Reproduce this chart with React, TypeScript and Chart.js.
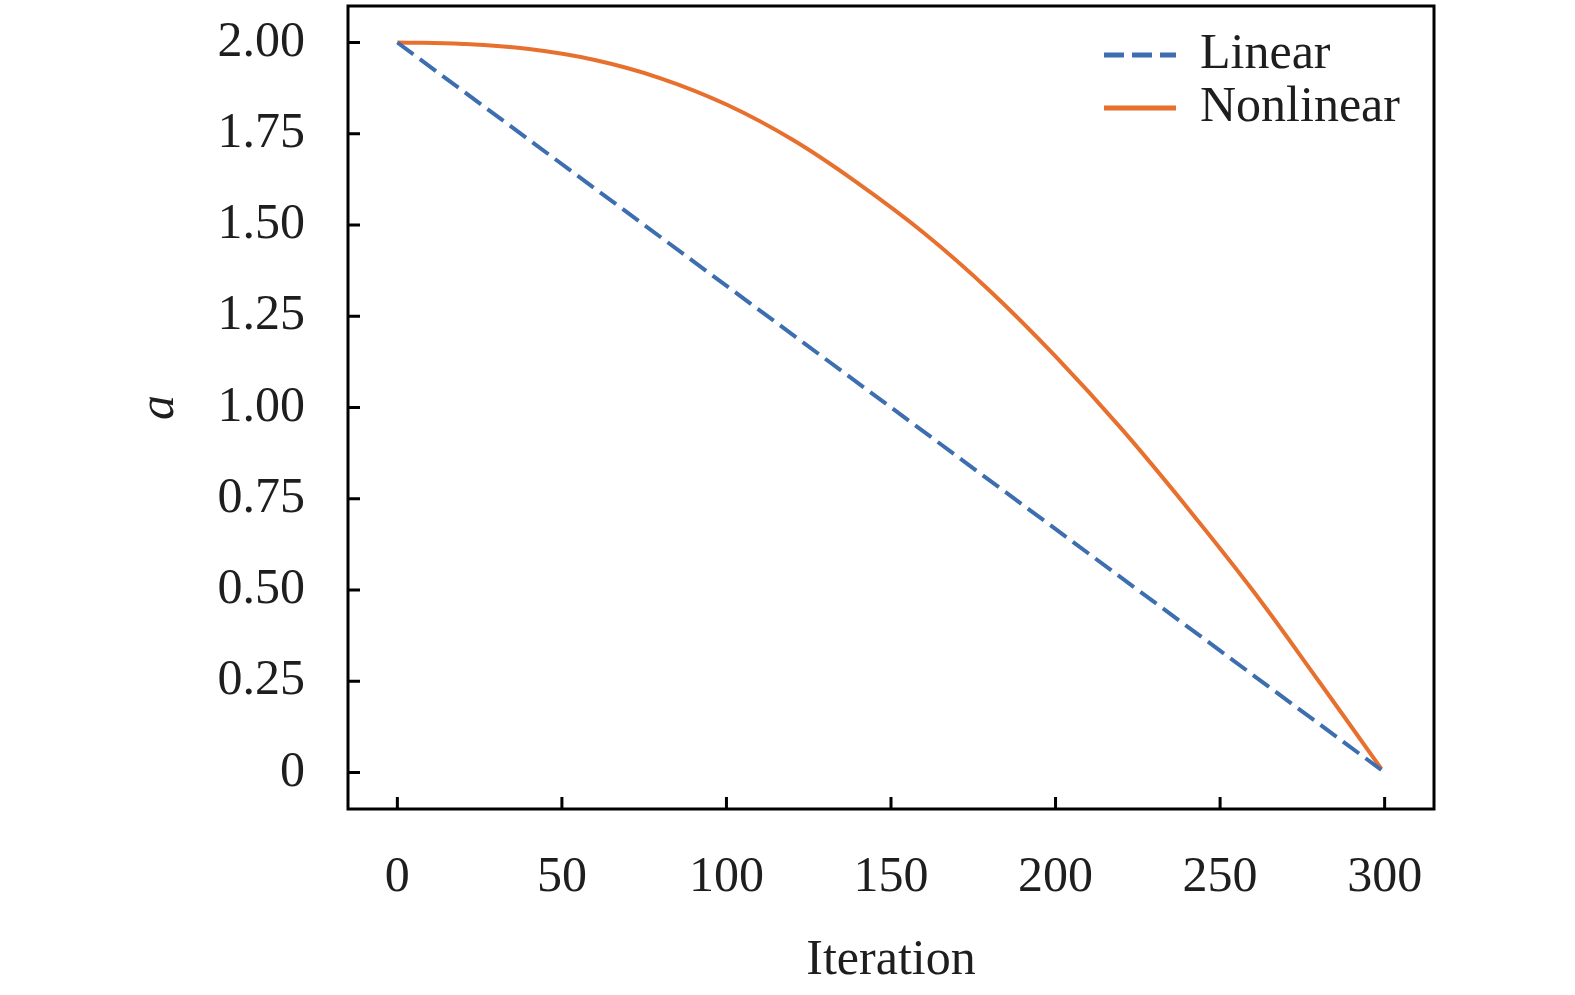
import React, { useEffect, useRef } from 'react';
import { Chart, registerables } from 'chart.js';

Chart.register(...registerables);

// values
const iterations = [0, 20, 40, 60, 80, 100, 120, 140, 160, 180, 200, 220, 240, 260, 280, 299];
const nonlinearA = [2.0, 1.996, 1.982, 1.952, 1.902, 1.83, 1.734, 1.614, 1.478, 1.32, 1.14, 0.942, 0.726, 0.498, 0.25, 0.01];
const linearIterations = [0, 299];
const linearA = [2.0, 0.007];

const xTicks = [0, 50, 100, 150, 200, 250, 300];
const yTicks = [0, 0.25, 0.5, 0.75, 1.0, 1.25, 1.5, 1.75, 2.0];

const BLUE = '#3d6eb0';
const ORANGE = '#e8702e';
const FONT = 'Liberation Serif';
const TEXT = '#1e1e1e';

const framePlugin = {
  id: 'frameAndTicks',
  afterDatasetsDraw(chart: any) {
    const { ctx, chartArea: a, scales } = chart;
    ctx.save();
    ctx.strokeStyle = '#000';
    ctx.lineWidth = 3;
    ctx.setLineDash([]);
    ctx.strokeRect(a.left, a.top, a.right - a.left, a.bottom - a.top);
    ctx.beginPath();
    xTicks.forEach((v) => {
      const px = scales.x.getPixelForValue(v);
      ctx.moveTo(px, a.bottom);
      ctx.lineTo(px, a.bottom - 12);
    });
    yTicks.forEach((v) => {
      const py = scales.y.getPixelForValue(v);
      ctx.moveTo(a.left, py);
      ctx.lineTo(a.left + 12, py);
    });
    ctx.stroke();

    // legend, upper right inside the axes
    const x0 = a.right - 330;
    const x1 = a.right - 258;
    const tx = a.right - 234;
    const rows = [a.top + 49, a.top + 102];
    ctx.font = `50px "${FONT}"`;
    ctx.textBaseline = 'middle';
    ctx.textAlign = 'left';
    chart.data.datasets.forEach((ds: any, i: number) => {
      ctx.beginPath();
      ctx.strokeStyle = ds.borderColor;
      ctx.lineWidth = ds.borderWidth + 1;
      ctx.setLineDash(ds.borderDash || []);
      ctx.moveTo(x0, rows[i]);
      ctx.lineTo(x1, rows[i]);
      ctx.stroke();
      ctx.setLineDash([]);
      ctx.fillStyle = TEXT;
      ctx.fillText(ds.label, tx, rows[i]);
    });
    ctx.restore();
  },
};

const App: React.FC = () => {
  const canvasRef = useRef<HTMLCanvasElement>(null);
  const chartRef = useRef<Chart | null>(null);

  useEffect(() => {
    if (chartRef.current) {
      chartRef.current.destroy();
    }
    if (!canvasRef.current) return;

    // @ts-ignore
    chartRef.current = new Chart(canvasRef.current, {
      type: 'line',
      data: {
        datasets: [
          {
            label: 'Linear',
            data: linearIterations.map((t, i) => ({ x: t, y: linearA[i] })),
            borderColor: BLUE,
            borderWidth: 4,
            borderDash: [20, 8],
            pointRadius: 0,
            fill: false,
          },
          {
            label: 'Nonlinear',
            data: iterations.map((t, i) => ({ x: t, y: nonlinearA[i] })),
            borderColor: ORANGE,
            borderWidth: 4,
            tension: 0.4,
            pointRadius: 0,
            fill: false,
          },
        ],
      },
      options: {
        animation: false,
        responsive: true,
        maintainAspectRatio: false,
        layout: { padding: { left: 0, right: 141, top: 6, bottom: 0 } },
        plugins: {
          legend: { display: false },
          tooltip: { enabled: false },
        },
        scales: {
          x: {
            type: 'linear',
            min: -15,
            max: 315,
            afterBuildTicks: (s: any) => {
              s.ticks = xTicks.map((v) => ({ value: v }));
            },
            afterFit: (s: any) => {
              s.height = 186;
              s.paddingLeft = 0;
              s.paddingRight = 0;
            },
            grid: { display: false, drawTicks: false, tickLength: 0 },
            border: { display: false },
            ticks: {
              padding: 39,
              color: TEXT,
              font: { family: FONT, size: 50 },
              callback: (v: any) => String(v),
            },
            title: {
              display: true,
              text: 'Iteration',
              color: TEXT,
              font: { family: FONT, size: 50 },
              padding: { top: 0, bottom: 4 },
            },
          },
          y: {
            type: 'linear',
            min: -0.1,
            max: 2.1,
            afterBuildTicks: (s: any) => {
              s.ticks = yTicks.map((v) => ({ value: v }));
            },
            afterFit: (s: any) => {
              s.width = 348;
              s.paddingTop = 0;
              s.paddingBottom = 0;
            },
            grid: { display: false, drawTicks: false, tickLength: 0 },
            border: { display: false },
            ticks: {
              padding: 43,
              color: TEXT,
              font: { family: FONT, size: 50 },
              callback: (v: any) => (v === 0 ? '0' : Number(v).toFixed(2)),
            },
            title: {
              display: true,
              text: 'a',
              color: TEXT,
              font: { family: FONT, size: 50, style: 'italic' },
              padding: { top: 130, bottom: 0 },
            },
          },
        },
      },
      plugins: [framePlugin],
    });

    return () => {
      if (chartRef.current) {
        chartRef.current.destroy();
        chartRef.current = null;
      }
    };
  }, []);

  return (
    <div style={{ position: 'absolute', left: 0, top: 0, width: 1575, height: 995, background: '#fff' }}>
      <canvas ref={canvasRef}></canvas>
    </div>
  );
};

export default App;
